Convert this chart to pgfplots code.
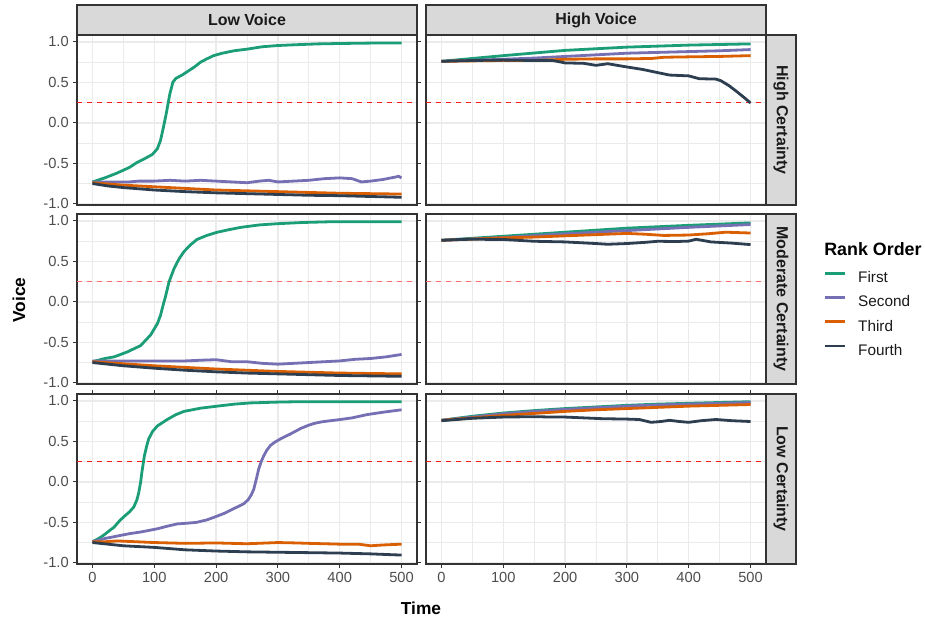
\documentclass[border=0pt]{standalone}
\usepackage{fontspec}
\setmainfont{Liberation Sans}
\usepackage{pgfplots}
\pgfplotsset{compat=1.18}
\definecolor{cFirst}{HTML}{1B9E77}
\definecolor{cSecond}{HTML}{7570B3}
\definecolor{cThird}{HTML}{D95F02}
\definecolor{cFourth}{HTML}{2C3E50}
\definecolor{gridc}{HTML}{EBEBEB}
\definecolor{border}{HTML}{333333}
\definecolor{tickc}{HTML}{4D4D4D}
\definecolor{stripc}{HTML}{D9D9D9}
\definecolor{txt}{HTML}{1A1A1A}
\definecolor{thrc}{HTML}{FF1A1A}
\definecolor{thrlight}{HTML}{FF6E6E}

% panel geometry: 1px of the reference = 0.75pt
\pgfplotsset{
  panel/.style={
    scale only axis, width=255pt, height=127.5pt,
    xmin=-25, xmax=525, ymin=-1.015, ymax=1.085,
    xtick={0,100,...,500}, minor xtick={50,150,250,350,450},
    ytick={-1,-0.5,0,0.5,1}, minor ytick={-0.75,-0.25,0.25,0.75},
    grid=both,
    major grid style={draw=gridc, line width=1.1pt},
    minor grid style={draw=gridc, line width=0.55pt},
    axis line style={draw=border, line width=0.9pt},
    tick align=outside, major tick length=2.7pt, minor tick length=0pt,
    tick style={draw=border, line width=0.8pt},
    ticklabel style={font=\fontsize{11}{13}\selectfont, text=tickc},
    /pgf/number format/assume math mode=true,
    y tick label style={/pgf/number format/.cd, fixed, fixed zerofill, precision=1},
    every axis plot/.append style={line width=2.1pt, line join=round, no marks},
  },
  notx/.style={xmajorticks=false, xticklabels={}},
  noty/.style={ymajorticks=false, yticklabels={}},
}

\begin{document}
\begin{tikzpicture}
\useasboundingbox (0pt,0pt) rectangle (693.75pt,465pt);

% ---- High Certainty, Low Voice
\begin{axis}[panel, notx, at={(57.75pt,311.25pt)}, anchor=south west]
\addplot[draw=thrc, line width=1.1pt, dash pattern=on 3.75pt off 3.75pt] coordinates {(-25,0.25)(525,0.25)};
\addplot[cFirst] coordinates {(0,-0.73)(20,-0.68)(40,-0.62)(60,-0.55)(72,-0.49)(85,-0.44)(97,-0.39)(105,-0.32)(110,-0.22)(115,-0.05)(120,0.14)(125,0.35)(130,0.50)(135,0.55)(145,0.59)(155,0.64)(165,0.69)(175,0.75)(185,0.79)(196,0.83)(210,0.86)(229,0.89)(250,0.91)(275,0.94)(300,0.955)(330,0.965)(365,0.975)(400,0.98)(450,0.985)(500,0.985)};
\addplot[cSecond] coordinates {(0,-0.73)(30,-0.73)(60,-0.73)(75,-0.72)(100,-0.72)(125,-0.71)(150,-0.72)(175,-0.71)(200,-0.72)(225,-0.73)(250,-0.74)(270,-0.72)(285,-0.71)(300,-0.73)(325,-0.72)(350,-0.71)(375,-0.69)(400,-0.68)(420,-0.69)(435,-0.73)(450,-0.72)(470,-0.70)(490,-0.67)(495,-0.66)(500,-0.68)};
\addplot[cThird] coordinates {(0,-0.74)(50,-0.77)(100,-0.79)(150,-0.81)(200,-0.83)(250,-0.84)(300,-0.85)(350,-0.86)(400,-0.87)(450,-0.875)(500,-0.88)};
\addplot[cFourth] coordinates {(0,-0.75)(25,-0.78)(50,-0.80)(100,-0.83)(150,-0.85)(200,-0.865)(250,-0.875)(300,-0.885)(350,-0.895)(400,-0.90)(450,-0.91)(500,-0.92)};
\end{axis}

% ---- High Certainty, High Voice
\begin{axis}[panel, notx, noty, at={(319.5pt,311.25pt)}, anchor=south west]
\addplot[draw=thrc, line width=1.1pt, dash pattern=on 3.75pt off 3.75pt] coordinates {(-25,0.25)(525,0.25)};
\addplot[cFirst] coordinates {(0,0.76)(100,0.83)(200,0.895)(300,0.935)(400,0.96)(500,0.975)};
\addplot[cSecond] coordinates {(0,0.76)(100,0.785)(150,0.80)(200,0.82)(250,0.84)(300,0.86)(350,0.87)(400,0.88)(450,0.89)(500,0.905)};
\addplot[cThird] coordinates {(0,0.76)(50,0.765)(100,0.77)(150,0.77)(200,0.785)(250,0.79)(300,0.79)(340,0.795)(360,0.81)(400,0.815)(450,0.82)(500,0.83)};
\addplot[cFourth] coordinates {(0,0.76)(50,0.77)(100,0.775)(150,0.77)(180,0.77)(200,0.74)(230,0.735)(250,0.71)(269,0.73)(300,0.69)(325,0.66)(350,0.62)(369,0.59)(400,0.58)(417,0.545)(444,0.54)(452,0.52)(465,0.46)(477,0.39)(490,0.31)(500,0.245)};
\end{axis}

% ---- Moderate Certainty, Low Voice
\begin{axis}[panel, notx, at={(57.75pt,177pt)}, anchor=south west]
\addplot[draw=thrlight, line width=1.1pt, dash pattern=on 3.75pt off 3.75pt] coordinates {(-25,0.25)(525,0.25)};
\addplot[cFirst] coordinates {(0,-0.74)(20,-0.70)(35,-0.68)(56,-0.62)(78,-0.54)(94,-0.41)(105,-0.27)(110,-0.17)(115,-0.02)(118,0.06)(124,0.25)(132,0.41)(140,0.53)(148,0.62)(158,0.70)(169,0.77)(185,0.82)(202,0.86)(220,0.89)(240,0.92)(270,0.95)(299,0.965)(340,0.98)(390,0.99)(450,0.99)(500,0.99)};
\addplot[cSecond] coordinates {(0,-0.73)(50,-0.73)(100,-0.73)(150,-0.73)(180,-0.72)(200,-0.715)(225,-0.74)(250,-0.74)(275,-0.76)(300,-0.77)(325,-0.76)(350,-0.75)(375,-0.74)(400,-0.73)(425,-0.71)(450,-0.70)(475,-0.68)(500,-0.65)};
\addplot[cThird] coordinates {(0,-0.74)(50,-0.765)(100,-0.79)(150,-0.81)(200,-0.83)(250,-0.845)(300,-0.86)(350,-0.87)(400,-0.88)(450,-0.885)(500,-0.89)};
\addplot[cFourth] coordinates {(0,-0.75)(50,-0.79)(100,-0.82)(150,-0.845)(200,-0.865)(250,-0.88)(300,-0.89)(350,-0.90)(400,-0.91)(450,-0.915)(500,-0.92)};
\end{axis}

% ---- Moderate Certainty, High Voice (carries the legend)
\begin{axis}[panel, notx, noty, at={(319.5pt,177pt)}, anchor=south west,
  legend style={at={(axis description cs:1.168,0.665)}, anchor=north west,
    draw=none, fill=none, inner sep=0pt, row sep=7.2pt,
    font=\fontsize{11.5}{13}\selectfont, text=txt,
    nodes={inner sep=0pt, text height=8.5pt, text depth=2.5pt}},
  legend cell align=left,
  legend image code/.code={\draw[#1, line width=2.1pt] (0pt,4pt) -- (15pt,4pt); \path (24pt,4pt);}]
\addplot[draw=thrlight, line width=1.1pt, dash pattern=on 3.75pt off 3.75pt, forget plot] coordinates {(-25,0.25)(525,0.25)};
\addplot[cFirst] coordinates {(0,0.76)(100,0.81)(200,0.86)(300,0.91)(400,0.945)(500,0.975)};
\addplot[cSecond] coordinates {(0,0.76)(100,0.795)(200,0.84)(300,0.88)(400,0.92)(500,0.955)};
\addplot[cThird] coordinates {(0,0.76)(50,0.775)(100,0.79)(150,0.80)(200,0.815)(250,0.83)(300,0.845)(330,0.835)(360,0.82)(400,0.825)(430,0.84)(460,0.86)(480,0.855)(500,0.85)};
\addplot[cFourth] coordinates {(0,0.76)(30,0.77)(50,0.773)(100,0.77)(150,0.748)(200,0.74)(250,0.72)(269,0.711)(300,0.72)(330,0.735)(350,0.748)(380,0.745)(400,0.75)(412,0.773)(436,0.74)(470,0.725)(500,0.707)};
\legend{First,Second,Third,Fourth}
\end{axis}

% ---- Low Certainty, Low Voice
\begin{axis}[panel, at={(57.75pt,42pt)}, anchor=south west]
\addplot[draw=thrc, line width=1.1pt, dash pattern=on 3.75pt off 3.75pt] coordinates {(-25,0.25)(525,0.25)};
\addplot[cFirst] coordinates {(0,-0.74)(10,-0.70)(18,-0.66)(28,-0.60)(35,-0.56)(44,-0.48)(51,-0.43)(60,-0.37)(67,-0.31)(72,-0.22)(75,-0.13)(78,0.00)(80,0.12)(84,0.32)(88,0.45)(91,0.53)(97,0.62)(105,0.69)(113,0.73)(121,0.77)(135,0.83)(148,0.87)(165,0.895)(175,0.91)(202,0.935)(230,0.96)(256,0.975)(300,0.985)(337,0.99)(400,0.99)(500,0.99)};
\addplot[cSecond] coordinates {(0,-0.74)(20,-0.70)(40,-0.67)(60,-0.64)(78,-0.62)(105,-0.58)(120,-0.55)(137,-0.52)(155,-0.51)(169,-0.50)(185,-0.47)(196,-0.44)(213,-0.39)(229,-0.33)(245,-0.27)(252,-0.22)(257,-0.16)(261,-0.09)(265,0.03)(269,0.16)(273,0.25)(277,0.32)(282,0.39)(288,0.45)(295,0.49)(304,0.53)(320,0.59)(337,0.66)(350,0.70)(358,0.72)(370,0.74)(380,0.75)(401,0.77)(420,0.79)(444,0.83)(470,0.86)(500,0.89)};
\addplot[cThird] coordinates {(0,-0.74)(20,-0.74)(40,-0.73)(70,-0.74)(100,-0.75)(150,-0.76)(200,-0.755)(250,-0.765)(300,-0.75)(330,-0.755)(350,-0.76)(400,-0.77)(430,-0.77)(450,-0.79)(470,-0.78)(500,-0.77)};
\addplot[cFourth] coordinates {(0,-0.75)(25,-0.77)(50,-0.79)(75,-0.80)(100,-0.81)(150,-0.84)(200,-0.855)(250,-0.865)(300,-0.87)(350,-0.875)(400,-0.88)(450,-0.89)(500,-0.905)};
\end{axis}

% ---- Low Certainty, High Voice
\begin{axis}[panel, noty, at={(319.5pt,42pt)}, anchor=south west]
\addplot[draw=thrc, line width=1.1pt, dash pattern=on 3.75pt off 3.75pt] coordinates {(-25,0.25)(525,0.25)};
\addplot[cFirst] coordinates {(0,0.76)(50,0.81)(100,0.85)(150,0.88)(200,0.905)(250,0.925)(300,0.945)(350,0.96)(400,0.97)(450,0.98)(500,0.99)};
\addplot[cSecond] coordinates {(0,0.76)(50,0.80)(100,0.84)(150,0.87)(200,0.895)(250,0.915)(300,0.935)(350,0.95)(400,0.96)(450,0.97)(500,0.98)};
\addplot[cThird] coordinates {(0,0.76)(50,0.79)(100,0.82)(150,0.845)(200,0.87)(250,0.89)(300,0.905)(350,0.92)(400,0.935)(450,0.945)(500,0.955)};
\addplot[cFourth] coordinates {(0,0.755)(50,0.785)(100,0.80)(150,0.805)(180,0.80)(200,0.80)(230,0.79)(260,0.78)(300,0.775)(320,0.77)(339,0.735)(355,0.745)(369,0.76)(385,0.745)(400,0.735)(420,0.755)(444,0.77)(470,0.755)(500,0.745)};
\end{axis}

% ---- facet strips and free text, in reference pixels
\begin{scope}[x=0.75pt, y=0.75pt]
\begin{scope}[line width=0.9pt]
\draw[fill=stripc, draw=border] (77,585) rectangle (417,615);
\draw[fill=stripc, draw=border] (426,585) rectangle (766,615);
\draw[fill=stripc, draw=border] (766,415) rectangle (796,585);
\draw[fill=stripc, draw=border] (766,236) rectangle (796,406);
\draw[fill=stripc, draw=border] (766,56) rectangle (796,226);
\end{scope}
\begin{scope}[every node/.style={font=\fontsize{12}{14}\selectfont\bfseries, text=txt, inner sep=0pt}]
\node at (247,600) {Low Voice};
\node at (596,600) {High Voice};
\node[rotate=-90] at (781,500) {High Certainty};
\node[rotate=-90] at (781,321) {Moderate Certainty};
\node[rotate=-90] at (781,141) {Low Certainty};
\end{scope}
\node[rotate=90, font=\fontsize{13}{15}\selectfont\bfseries] at (19,320) {Voice};
\node[font=\fontsize{13}{15}\selectfont\bfseries] at (421,12) {Time};
\node[anchor=west, inner sep=0pt, font=\fontsize{13.4}{15}\selectfont\bfseries] at (824,371) {Rank Order};
\end{scope}
\end{tikzpicture}
\end{document}
